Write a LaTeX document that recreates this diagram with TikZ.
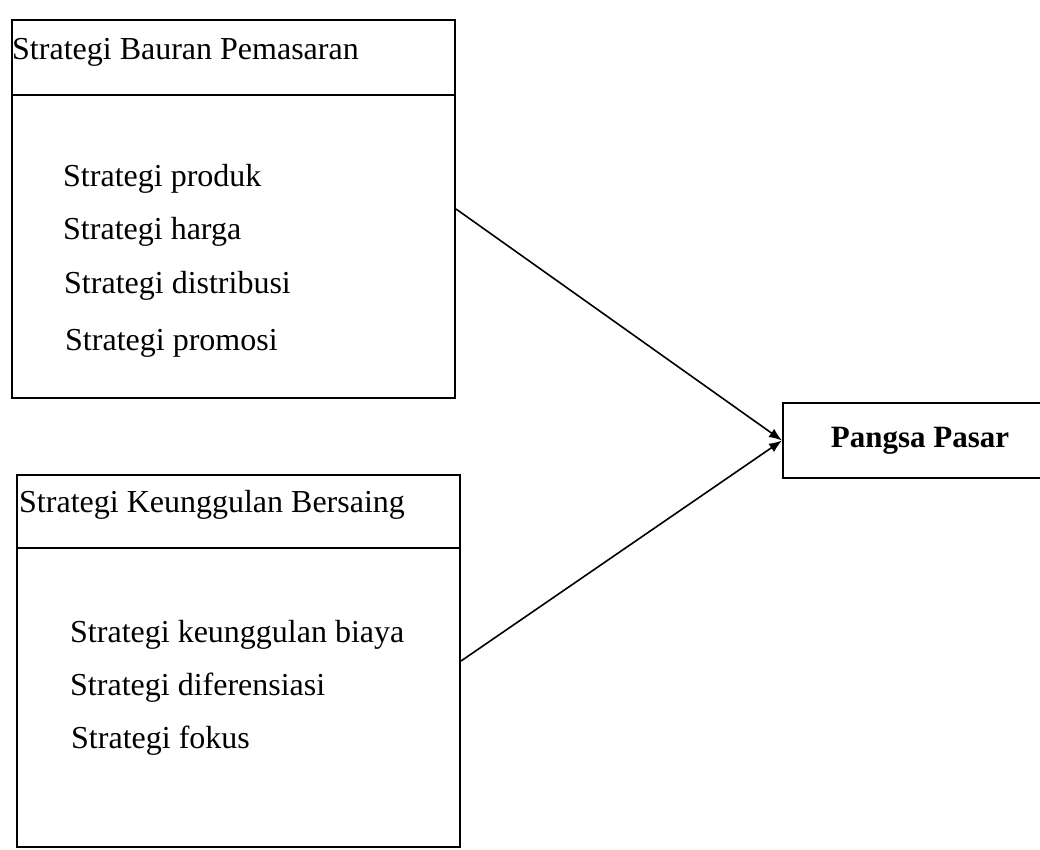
\documentclass[tikz,border=0pt]{standalone}
\usepackage{fontspec}
\setmainfont{Liberation Serif}
\usepackage{tikz}
\usetikzlibrary{arrows.meta}

\tikzset{
  txt/.style={anchor=base west,inner sep=0pt,font=\fontsize{32}{38}\selectfont},
  bigbox/.style={draw,line width=2pt,rectangle,inner sep=0pt},
  link/.style={line width=1.6pt,-{Latex[length=13pt,width=10pt]}}
}

\begin{document}
\begin{tikzpicture}[x=1pt,y=1pt,yscale=-1,xscale=1]
\path[use as bounding box] (0,0) rectangle (1040,850);

%Shape: Rectangle [bauran]
\node[bigbox,minimum width=443pt,minimum height=378pt] (bauran) at (233.5,209) {};
%Straight Lines [divider bauran]
\draw [line width=2pt] (bauran.west |- 0,95) -- (bauran.east |- 0,95) ;
%Shape: Rectangle [unggul]
\node[bigbox,minimum width=443pt,minimum height=372pt] (unggul) at (238.5,661) {};
%Straight Lines [divider unggul]
\draw [line width=2pt] (unggul.west |- 0,548) -- (unggul.east |- 0,548) ;
%Shape: Rectangle [pangsa]
\node[bigbox,minimum width=274pt,minimum height=75pt,font=\fontsize{31}{37}\selectfont\bfseries] (pangsa) at (920,440.5) {Pangsa Pasar};

% Text Node
\node[txt] (hbauran) at (12,60) {Strategi Bauran Pemasaran};
% Text Node
\node[txt] (produk) at (63,187) {Strategi produk};
% Text Node
\node[txt] (harga) at (63,240) {Strategi harga};
% Text Node
\node[txt] (distribusi) at (64,293) {Strategi distribusi};
% Text Node
\node[txt] (promosi) at (65,350) {Strategi promosi};

% Text Node
\node[txt] (hunggul) at (19,512) {Strategi Keunggulan Bersaing};
% Text Node
\node[txt] (biaya) at (70,642) {Strategi keunggulan biaya};
% Text Node
\node[txt] (diferensiasi) at (70,695) {Strategi diferensiasi};
% Text Node
\node[txt] (fokus) at (71,748) {Strategi fokus};

%Straight Lines [arrows]
\draw [link] (bauran.east) -- (pangsa.west) ;
\draw [link] (unggul.east) -- (pangsa.west) ;
\end{tikzpicture}
\end{document}
